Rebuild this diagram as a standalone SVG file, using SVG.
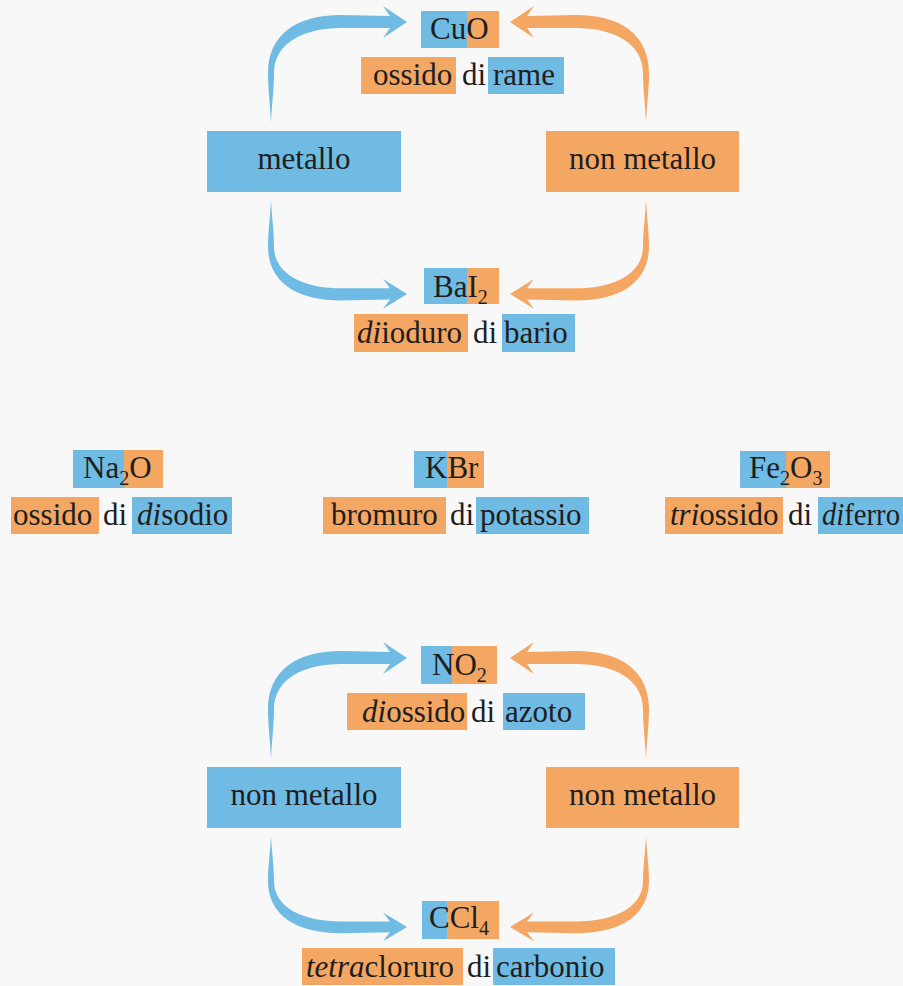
<svg xmlns="http://www.w3.org/2000/svg" width="903" height="986" viewBox="0 0 903 986" font-family="'Liberation Serif', 'Times New Roman', Tinos, 'Noto Serif', 'DejaVu Serif', FreeSerif, serif">
<style>
.b{fill:#6FBBE3}
.o{fill:#F4A663}
text{font-family:'Liberation Serif','Times New Roman',Tinos,'Noto Serif','DejaVu Serif',FreeSerif,serif;font-size:31px;fill:#1e1e1e}
.c{text-anchor:middle}
.i{font-style:italic}
.s{font-size:20px}
</style>
<defs>
<path id="arr" d="M 0 0 C -1 -20 -3 -35 -3 -50 C -3 -88 25 -108 70 -108 L 119 -107 L 112 -117 L 136 -101 L 112 -85 L 119 -95 L 70 -95 C 33 -95 3 -80 3 -50 C 3 -35 1 -20 0 0 Z"/>
</defs>
<rect width="903" height="986" fill="#f8f8f8"/>

<g id="connectors">
<use href="#arr" class="b" transform="translate(271,123)"/>
<use href="#arr" class="b" transform="translate(271,200) scale(1,-0.93)"/>
<use href="#arr" class="o" transform="translate(646,123) scale(-1,1)"/>
<use href="#arr" class="o" transform="translate(646,200) scale(-1,-0.93)"/>
<use href="#arr" class="b" transform="translate(271,759)"/>
<use href="#arr" class="b" transform="translate(271,836) scale(1,-0.9)"/>
<use href="#arr" class="o" transform="translate(646,759) scale(-1,1)"/>
<use href="#arr" class="o" transform="translate(646,836) scale(-1,-0.9)"/>
</g>

<g id="cuo">
<rect class="b" x="421" y="11" width="46" height="37"/>
<rect class="o" x="467" y="11" width="32" height="37"/>
<text x="430" y="39">CuO</text>
</g>
<g id="cuo-name">
<rect class="o" x="361" y="57" width="95" height="37"/>
<rect class="b" x="488" y="57" width="76" height="37"/>
<text y="85"><tspan x="373">ossido</tspan><tspan x="462">di</tspan><tspan x="493">rame</tspan></text>
</g>
<g id="metallo">
<rect class="b" x="207" y="131" width="194" height="61"/>
<text class="c" x="304" y="169">metallo</text>
</g>
<g id="nonmetallo1">
<rect class="o" x="546" y="131" width="193" height="61"/>
<text class="c" x="642.5" y="169">non metallo</text>
</g>
<g id="bai2">
<rect class="b" x="424" y="268" width="43" height="36"/>
<rect class="o" x="467" y="268" width="32" height="36"/>
<text x="433" y="297">BaI<tspan class="s" dy="7">2</tspan></text>
</g>
<g id="bai2-name">
<rect class="o" x="354" y="314" width="114" height="38"/>
<rect class="b" x="502" y="314" width="73" height="38"/>
<text y="343"><tspan x="357" class="i">di</tspan><tspan>ioduro</tspan><tspan x="473">di</tspan><tspan x="504">bario</tspan></text>
</g>

<g id="na2o">
<rect class="b" x="73" y="450" width="51" height="38"/>
<rect class="o" x="124" y="450" width="39" height="38"/>
<text x="83" y="478">Na<tspan class="s" dy="7">2</tspan><tspan dy="-7">O</tspan></text>
</g>
<g id="na2o-name">
<rect class="o" x="11" y="497" width="88" height="37"/>
<rect class="b" x="132" y="497" width="100" height="37"/>
<text y="525"><tspan x="13">ossido</tspan><tspan x="103">di</tspan><tspan x="137" class="i">di</tspan><tspan>sodio</tspan></text>
</g>
<g id="kbr">
<rect class="b" x="414" y="451" width="33" height="37"/>
<rect class="o" x="447" y="451" width="37" height="37"/>
<text x="425" y="478">KBr</text>
</g>
<g id="kbr-name">
<rect class="o" x="323" y="497" width="123" height="37"/>
<rect class="b" x="476" y="497" width="113" height="37"/>
<text y="525"><tspan x="331">bromuro</tspan><tspan x="450">di</tspan><tspan x="480">potassio</tspan></text>
</g>
<g id="fe2o3">
<rect class="b" x="740" y="451" width="46" height="37"/>
<rect class="o" x="786" y="451" width="44" height="37"/>
<text x="749" y="478">Fe<tspan class="s" dy="7">2</tspan><tspan dy="-7">O</tspan><tspan class="s" dy="7">3</tspan></text>
</g>
<g id="fe2o3-name">
<rect class="o" x="665" y="497" width="118" height="37"/>
<rect class="b" x="818" y="497" width="85" height="37"/>
<text y="525"><tspan x="670" class="i">tri</tspan><tspan>ossido</tspan><tspan x="788">di</tspan></text>
<text x="822" y="525" textLength="78" lengthAdjust="spacingAndGlyphs"><tspan class="i">di</tspan><tspan>ferro</tspan></text>
</g>

<g id="no2">
<rect class="b" x="421" y="646" width="31" height="38"/>
<rect class="o" x="452" y="646" width="45" height="38"/>
<text x="432" y="675">NO<tspan class="s" dy="7">2</tspan></text>
</g>
<g id="no2-name">
<rect class="o" x="347" y="693" width="120" height="37"/>
<rect class="b" x="503" y="693" width="82" height="37"/>
<text y="722"><tspan x="362" class="i">di</tspan><tspan>ossido</tspan><tspan x="471">di</tspan><tspan x="505">azoto</tspan></text>
</g>
<g id="nonmetallo2">
<rect class="b" x="207" y="767" width="194" height="61"/>
<text class="c" x="304" y="805">non metallo</text>
</g>
<g id="nonmetallo3">
<rect class="o" x="546" y="767" width="193" height="61"/>
<text class="c" x="642.5" y="805">non metallo</text>
</g>
<g id="ccl4">
<rect class="b" x="422" y="901" width="25" height="38"/>
<rect class="o" x="447" y="901" width="52" height="38"/>
<text x="429" y="928">CCl<tspan class="s" dy="7">4</tspan></text>
</g>
<g id="ccl4-name">
<rect class="o" x="302" y="948" width="161" height="37"/>
<rect class="b" x="493" y="948" width="122" height="37"/>
<text y="977"><tspan x="306" class="i">tetra</tspan><tspan>cloruro</tspan><tspan x="467">di</tspan><tspan x="496">carbonio</tspan></text>
</g>
</svg>
